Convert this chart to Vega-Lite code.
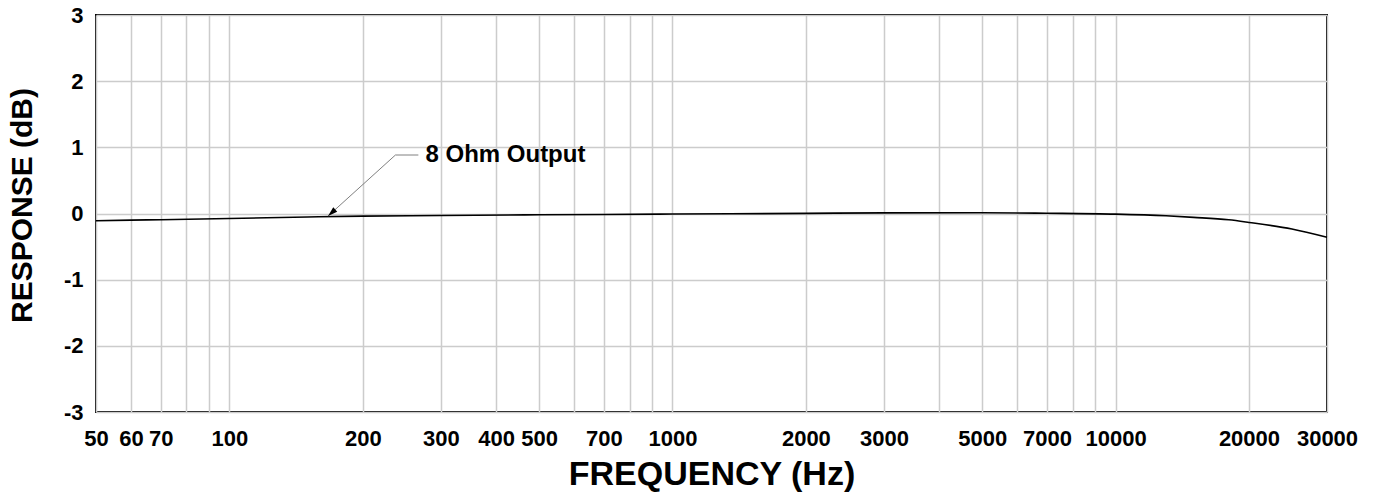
{
  "$schema": "https://vega.github.io/schema/vega-lite/v6.json",
  "width": 1231,
  "height": 397,
  "autosize": {"type": "none"},
  "padding": {"left": 96, "top": 15, "right": 48, "bottom": 84},
  "background": "white",
  "config": {
    "view": {"stroke": "#000", "strokeWidth": 2},
    "font": "Liberation Sans",
    "axis": {
      "labelFont": "Liberation Sans",
      "labelFontWeight": "bold",
      "labelFontSize": 22,
      "labelColor": "#000",
      "titleFont": "Liberation Sans",
      "titleFontWeight": "bold",
      "titleFontSize": 32,
      "titleColor": "#000",
      "gridColor": "#cccccc",
      "gridWidth": 1.5,
      "gridOpacity": 1,
      "ticks": false,
      "tickSize": 0,
      "domain": false
    }
  },
  "layer": [
    {
      "data": {
        "values": [
          {"freq": 50, "db": -0.11},
          {"freq": 60, "db": -0.1},
          {"freq": 70, "db": -0.094},
          {"freq": 100, "db": -0.075},
          {"freq": 150, "db": -0.052},
          {"freq": 200, "db": -0.04},
          {"freq": 300, "db": -0.03},
          {"freq": 500, "db": -0.02},
          {"freq": 700, "db": -0.014},
          {"freq": 1000, "db": -0.008},
          {"freq": 2000, "db": 0.002},
          {"freq": 3000, "db": 0.01},
          {"freq": 5000, "db": 0.012},
          {"freq": 7000, "db": 0.004},
          {"freq": 10000, "db": -0.01},
          {"freq": 13000, "db": -0.035},
          {"freq": 15000, "db": -0.058},
          {"freq": 18000, "db": -0.095},
          {"freq": 20000, "db": -0.135},
          {"freq": 25000, "db": -0.235},
          {"freq": 30000, "db": -0.36}
        ]
      },
      "mark": {"type": "line", "interpolate": "monotone", "color": "#000", "strokeWidth": 1.6},
      "encoding": {
        "x": {
          "field": "freq",
          "type": "quantitative",
          "scale": {"type": "log", "domain": [50, 30000], "nice": false},
          "axis": {
            "title": "FREQUENCY (Hz)",
            "values": [50, 60, 70, 80, 90, 100, 200, 300, 400, 500, 600, 700, 800, 900, 1000, 2000, 3000, 4000, 5000, 6000, 7000, 8000, 9000, 10000, 20000, 30000],
            "format": "d",
            "labelExpr": "indexof([50,60,70,100,200,300,400,500,700,1000,2000,3000,5000,7000,10000,20000,30000], datum.value) >= 0 ? datum.label : ''",
            "labelOverlap": false,
            "labelFlush": false,
            "labelPadding": 16,
            "titleFontSize": 34,
            "titleY": 62,
            "titleBaseline": "middle"
          }
        },
        "y": {
          "field": "db",
          "type": "quantitative",
          "scale": {"domain": [-3, 3], "nice": false},
          "axis": {
            "title": "RESPONSE (dB)",
            "values": [-3, -2, -1, 0, 1, 2, 3],
            "labelExpr": "'' + datum.value",
            "labelPadding": 13,
            "titleFontSize": 30,
            "titleX": -74,
            "titleY": 190,
            "titleBaseline": "middle"
          }
        }
      }
    },
    {
      "data": {
        "values": [
          {"f1": 167, "d1": -0.038, "f2": 237, "d2": 0.884},
          {"f1": 237, "d1": 0.884, "f2": 267, "d2": 0.884}
        ]
      },
      "mark": {"type": "rule", "color": "#808080", "strokeWidth": 1},
      "encoding": {
        "x": {"field": "f1", "type": "quantitative"},
        "y": {"field": "d1", "type": "quantitative"},
        "x2": {"field": "f2"},
        "y2": {"field": "d2"}
      }
    },
    {
      "data": {"values": [{"f": 167, "d": -0.038}]},
      "mark": {"type": "point", "shape": "M0,0L-0.4,-1.3L0.4,-1.3Z", "filled": true, "color": "#000", "opacity": 1, "size": 220, "angle": 48},
      "encoding": {
        "x": {"field": "f", "type": "quantitative"},
        "y": {"field": "d", "type": "quantitative"}
      }
    },
    {
      "data": {"values": [{"f": 277, "d": 0.88, "label": "8 Ohm Output"}]},
      "mark": {"type": "text", "align": "left", "baseline": "middle", "font": "Liberation Sans", "fontWeight": "bold", "fontSize": 24, "color": "#000"},
      "encoding": {
        "x": {"field": "f", "type": "quantitative"},
        "y": {"field": "d", "type": "quantitative"},
        "text": {"field": "label"}
      }
    }
  ]
}
